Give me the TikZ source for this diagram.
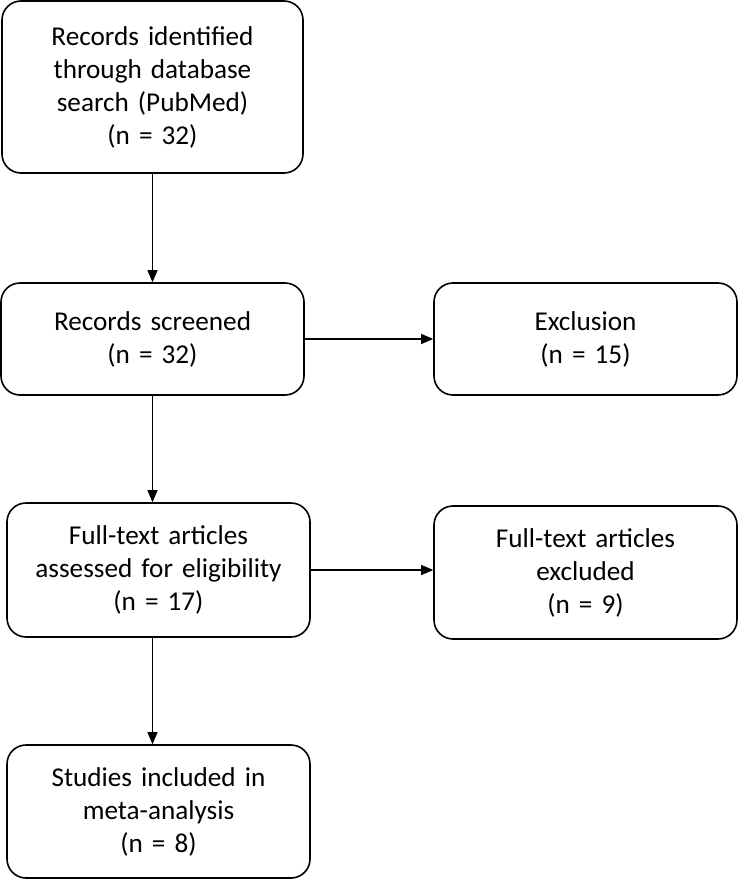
\documentclass[tikz,border=0pt]{standalone}
\usepackage{fontspec}
\setmainfont{Carlito}
\usetikzlibrary{arrows.meta}
\tikzset{
  caja/.style={draw, line width=1.6pt, rounded corners=19pt, align=center,
    text width=295pt, inner sep=0pt,
    font=\fontsize{27.2}{33}\selectfont},
  flecha/.style={line width=1.1pt, -{Triangle[length=12pt,width=10pt]}}
}
\begin{document}
\begin{tikzpicture}[x=1pt, y=-1pt]
        % Marco
        \useasboundingbox (0,0) rectangle (738,880);

        % Columna izquierda
        \node[caja, minimum width=301pt, text width=285pt, minimum height=172pt] (ident) at (152.5,87) {Records identified\\through database\\search (PubMed)\\(n = 32)};
        \node[caja, minimum width=303pt, minimum height=112pt] (cribado) at (152.5,339) {Records screened\\(n = 32)};
        \node[caja, minimum width=303pt, minimum height=134pt] (texto) at (158.5,570) {Full-text articles\\assessed for eligibility\\(n = 17)};
        \node[caja, minimum width=303pt, minimum height=133pt] (incluidos) at (158.5,811.5) {Studies included in\\meta-analysis\\(n = 8)};

        % Columna derecha
        \node[caja, minimum width=303pt, minimum height=112pt] (exclusion) at (585.5,339) {Exclusion\\(n = 15)};
        \node[caja, minimum width=303pt, minimum height=133pt] (excluidos) at (585.5,572.5) {Full-text articles\\excluded\\(n = 9)};

        % Flechas
        \draw[flecha] (ident.south) -- (ident.south |- cribado.north);
        \draw[flecha] (cribado.south) -- (cribado.south |- texto.north);
        \draw[flecha] (cribado.south |- texto.south) -- (cribado.south |- incluidos.north);
        \draw[flecha] (cribado.east) -- (exclusion.west);
        \draw[flecha] (texto.east) -- (texto.east -| excluidos.west);
\end{tikzpicture}
\end{document}
